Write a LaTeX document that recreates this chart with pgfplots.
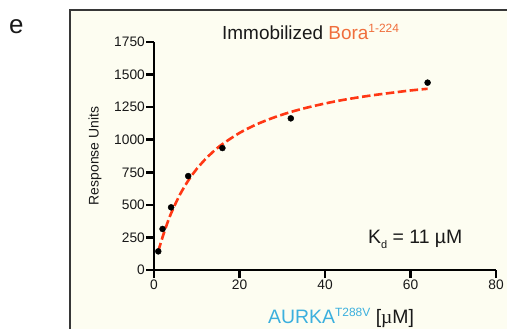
\documentclass[border=0pt]{standalone}
\usepackage{pgfplots}
\pgfplotsset{compat=1.18}
\usepackage{fontspec}
\setmainfont{Liberation Sans}
\newfontfamily\serifmu{Liberation Serif}
\definecolor{cream}{RGB}{253,253,241}
\definecolor{framegray}{RGB}{55,55,55}
\definecolor{fitred}{RGB}{255,55,20}
\definecolor{boraorange}{RGB}{240,110,60}
\definecolor{aurkacyan}{RGB}{60,176,222}
\definecolor{txt}{RGB}{25,25,25}
\begin{document}
\begin{tikzpicture}[x=1bp,y=1bp]
\useasboundingbox (0,0) rectangle (507,328);
\clip (0,0) rectangle (507,328);
\fill[white] (0,0) rectangle (507,328);
\draw[framegray, line width=1.6bp, fill=cream] (70,318) rectangle (540,-20);
\node[anchor=base west, inner sep=0, font=\fontsize{26}{28}\selectfont, text=txt] at (9,295) {e};
\begin{axis}[
  at={(154bp,58bp)}, anchor=south west,
  scale only axis, width=342bp, height=228bp,
  xmin=0, xmax=80, ymin=0, ymax=1750,
  axis lines=left,
  axis line style={-, line width=2.6bp, black},
  every tick/.style={line width=2.6bp, black},
  tick align=outside,
  major tick length=8bp,
  xtick={0,20,40,60,80},
  ytick={0,250,500,750,1000,1250,1500,1750},
  /pgf/number format/assume math mode=true,
  /pgf/number format/set thousands separator={},
  tick label style={font=\fontsize{13.8}{14}\selectfont, text=txt},
  yticklabel style={inner sep=1bp},
  xticklabel style={inner sep=2bp},
  clip=false,
]
\addplot[fitred, line width=2.6bp, dash pattern=on 8.5bp off 3.5bp, smooth] coordinates {
(1,145) (2,252) (3,349) (4,435) (6,575) (8,686) (10,776) (12,850) (14,913) (16,966)
(20,1052) (24,1118) (28,1170) (32,1213) (36,1248) (40,1278) (44,1304) (48,1326)
(52,1345) (56,1362) (60,1378) (64,1391)};
\addplot[only marks, mark=*, mark size=3bp, black] coordinates {
(1,143) (2,315) (4,481) (8,721) (16,936) (32,1164) (64,1438)};
\end{axis}
\node[anchor=base west, inner sep=0, font=\fontsize{19}{20}\selectfont, text=txt] at (222,289)
  {Immobilized \textcolor{boraorange}{Bora\raisebox{7bp}{\fontsize{12}{12}\selectfont 1-224}}};
\node[anchor=base west, inner sep=0, font=\fontsize{19.5}{20}\selectfont, text=txt] at (368,85)
  {K\raisebox{-5bp}{\fontsize{11}{11}\selectfont d} = 11 µM};
\node[anchor=base west, inner sep=0, font=\fontsize{19.5}{20}\selectfont, text=txt] at (268,5)
  {\textcolor{aurkacyan}{AURKA\raisebox{7bp}{\fontsize{12}{12}\selectfont T288V}} [{\serifmu µ}M]};
\node[rotate=90, inner sep=0, font=\fontsize{14}{15}\selectfont, text=txt] at (95,172) {Response Units};
\end{tikzpicture}
\end{document}
